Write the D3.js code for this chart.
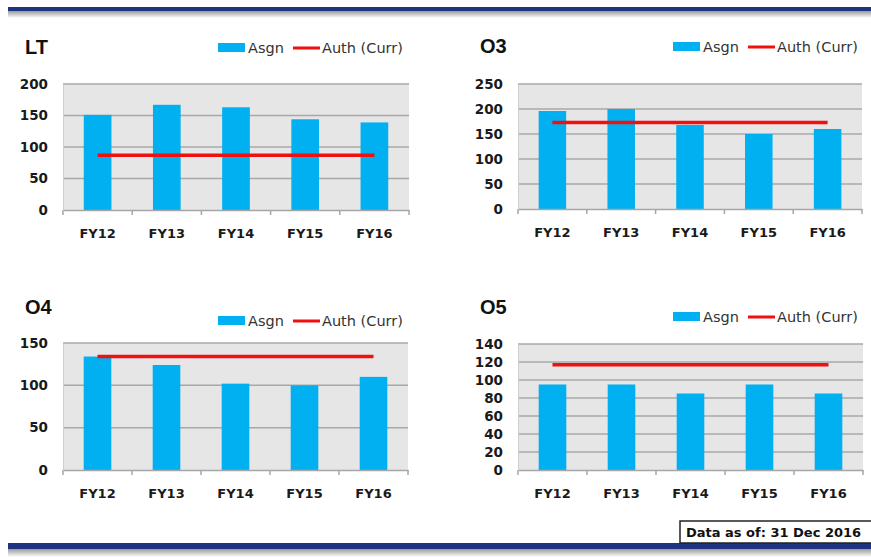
<!DOCTYPE html>
<html>
<head>
<meta charset="utf-8">
<script src="https://cdn.jsdelivr.net/npm/d3@7"></script>
<style>
  body { margin: 0; background: #fff; }
  svg { display: block; }
</style>
</head>
<body>
<script>
// chart values
var categories = ["FY12", "FY13", "FY14", "FY15", "FY16"];

var ltAsgn = [151, 167, 163, 144, 139];
var ltAuth = 87;
var ltTicks = [0, 50, 100, 150, 200];

var o3Asgn = [196, 200, 168, 150, 160];
var o3Auth = 173;
var o3Ticks = [0, 50, 100, 150, 200, 250];

var o4Asgn = [134, 124, 102, 100, 110];
var o4Auth = 134;
var o4Ticks = [0, 50, 100, 150];

var o5Asgn = [95, 95, 85, 95, 85];
var o5Auth = 117;
var o5Ticks = [0, 20, 40, 60, 80, 100, 120, 140];

var legendLabels = ["Asgn", "Auth (Curr)"];
var asOfText = "Data as of: 31 Dec 2016";

var svgWidth = 871, svgHeight = 557;
var boldFont = "'DejaVu Sans', sans-serif";

var svg = d3.select("body").append("svg")
  .attr("width", svgWidth)
  .attr("height", svgHeight);

var defs = svg.append("defs");
var shadow = defs.append("linearGradient")
  .attr("id", "shadow").attr("x1", 0).attr("y1", 0).attr("x2", 0).attr("y2", 1);
shadow.append("stop").attr("offset", "0%").attr("stop-color", "#9a9a9a");
shadow.append("stop").attr("offset", "100%").attr("stop-color", "#fff");

// top and bottom border bars
svg.append("rect").attr("x", 8).attr("y", 11).attr("width", svgWidth).attr("height", 7).attr("fill", "url(#shadow)");
svg.append("rect").attr("x", 8).attr("y", 7).attr("width", svgWidth).attr("height", 4).attr("fill", "#1f3480");
svg.append("rect").attr("x", 8).attr("y", 549).attr("width", svgWidth).attr("height", 8).attr("fill", "url(#shadow)");
svg.append("rect").attr("x", 8).attr("y", 543).attr("width", svgWidth).attr("height", 6).attr("fill", "#1f3480");

var panels = [
  { title: "LT", asgn: ltAsgn, auth: ltAuth, ticks: ltTicks,
    x0: 63, x1: 409, y0: 84, y1: 210, titleX: 25, titleY: 54, legX: 218, legY: 43 },
  { title: "O3", asgn: o3Asgn, auth: o3Auth, ticks: o3Ticks,
    x0: 518, x1: 862, y0: 84, y1: 209, titleX: 480, titleY: 53, legX: 673, legY: 42 },
  { title: "O4", asgn: o4Asgn, auth: o4Auth, ticks: o4Ticks,
    x0: 63, x1: 408, y0: 343, y1: 470, titleX: 25, titleY: 314, legX: 218, legY: 316 },
  { title: "O5", asgn: o5Asgn, auth: o5Auth, ticks: o5Ticks,
    x0: 518, x1: 863, y0: 344, y1: 470, titleX: 480, titleY: 314, legX: 673, legY: 312 }
];

panels.forEach(function(p) {
  var g = svg.append("g");

  var x = d3.scaleBand()
    .domain(categories)
    .range([p.x0, p.x1])
    .paddingInner(0.6)
    .paddingOuter(0.3);

  var y = d3.scaleLinear()
    .domain([0, d3.max(p.ticks)])
    .range([p.y1, p.y0]);

  // plot background
  g.append("rect")
    .attr("x", p.x0).attr("y", p.y0)
    .attr("width", p.x1 - p.x0).attr("height", p.y1 - p.y0)
    .attr("fill", "#e6e6e6");

  // gridlines
  g.selectAll(".grid")
    .data(p.ticks.filter(function(t) { return t > 0; }))
    .enter().append("line")
    .attr("x1", p.x0).attr("x2", p.x1)
    .attr("y1", function(d) { return y(d); })
    .attr("y2", function(d) { return y(d); })
    .attr("stroke", "#a8a8a8")
    .attr("stroke-width", 1.5);

  // bars
  g.selectAll(".bar")
    .data(p.asgn)
    .enter().append("rect")
    .attr("x", function(d, i) { return x(categories[i]); })
    .attr("y", function(d) { return y(d); })
    .attr("width", x.bandwidth())
    .attr("height", function(d) { return y(0) - y(d); })
    .attr("fill", "#00b0f0");

  // auth line
  var lineData = categories.map(function(c) { return { cat: c, v: p.auth }; });
  g.append("path")
    .datum(lineData)
    .attr("fill", "none")
    .attr("stroke", "#f01010")
    .attr("stroke-width", 3.5)
    .attr("d", d3.line()
      .x(function(d) { return x(d.cat) + x.bandwidth() / 2; })
      .y(function(d) { return y(d.v); }));

  // x axis
  var xAxis = g.append("g")
    .attr("transform", "translate(0," + y(0) + ")")
    .call(d3.axisBottom(x).tickSize(0).tickPadding(19));
  xAxis.select(".domain").attr("stroke", "#a6a6a6").attr("stroke-width", 1.5);
  xAxis.selectAll("text")
    .attr("font-family", boldFont)
    .attr("font-weight", "bold")
    .attr("font-size", 13)
    .attr("fill", "#1a1a1a");
  // tick marks on category boundaries
  var bounds = d3.range(categories.length + 1).map(function(i) { return p.x0 + i * x.step(); });
  xAxis.selectAll(".bound")
    .data(bounds)
    .enter().append("line")
    .attr("x1", function(d) { return d; }).attr("x2", function(d) { return d; })
    .attr("y1", 0).attr("y2", 5)
    .attr("stroke", "#a6a6a6").attr("stroke-width", 1.5);

  // y axis
  var yAxis = g.append("g")
    .attr("transform", "translate(" + p.x0 + ",0)")
    .call(d3.axisLeft(y).tickValues(p.ticks).tickSize(0).tickPadding(15));
  yAxis.select(".domain").attr("stroke", "#cfcfcf");
  yAxis.selectAll("text")
    .attr("font-family", boldFont)
    .attr("font-weight", "bold")
    .attr("font-size", 13.5)
    .attr("fill", "#1a1a1a");

  // title
  g.append("text")
    .attr("x", p.titleX).attr("y", p.titleY)
    .attr("font-family", "'Liberation Sans', Arial, sans-serif")
    .attr("font-weight", "bold")
    .attr("font-size", 20)
    .attr("fill", "#111")
    .text(p.title);

  // legend
  var leg = g.append("g").attr("transform", "translate(" + p.legX + "," + p.legY + ")");
  leg.append("rect").attr("x", 0).attr("y", 0).attr("width", 27).attr("height", 9).attr("fill", "#00b0f0");
  leg.append("text").attr("x", 30).attr("y", 10)
    .attr("font-family", "'DejaVu Sans', sans-serif").attr("font-size", 14.5).attr("fill", "#333")
    .text(legendLabels[0]);
  leg.append("line").attr("x1", 75).attr("x2", 102).attr("y1", 5).attr("y2", 5)
    .attr("stroke", "#f01010").attr("stroke-width", 3);
  leg.append("text").attr("x", 104).attr("y", 10)
    .attr("font-family", "'DejaVu Sans', sans-serif").attr("font-size", 14.5).attr("fill", "#333")
    .text(legendLabels[1]);
});

// data date box
svg.append("rect")
  .attr("x", 680).attr("y", 521).attr("width", 200).attr("height", 22)
  .attr("fill", "#fff").attr("stroke", "#222").attr("stroke-width", 1.5);
svg.append("text")
  .attr("x", 686).attr("y", 537)
  .attr("font-family", boldFont)
  .attr("font-weight", "bold")
  .attr("font-size", 13)
  .attr("fill", "#111")
  .text(asOfText);
</script>
</body>
</html>
